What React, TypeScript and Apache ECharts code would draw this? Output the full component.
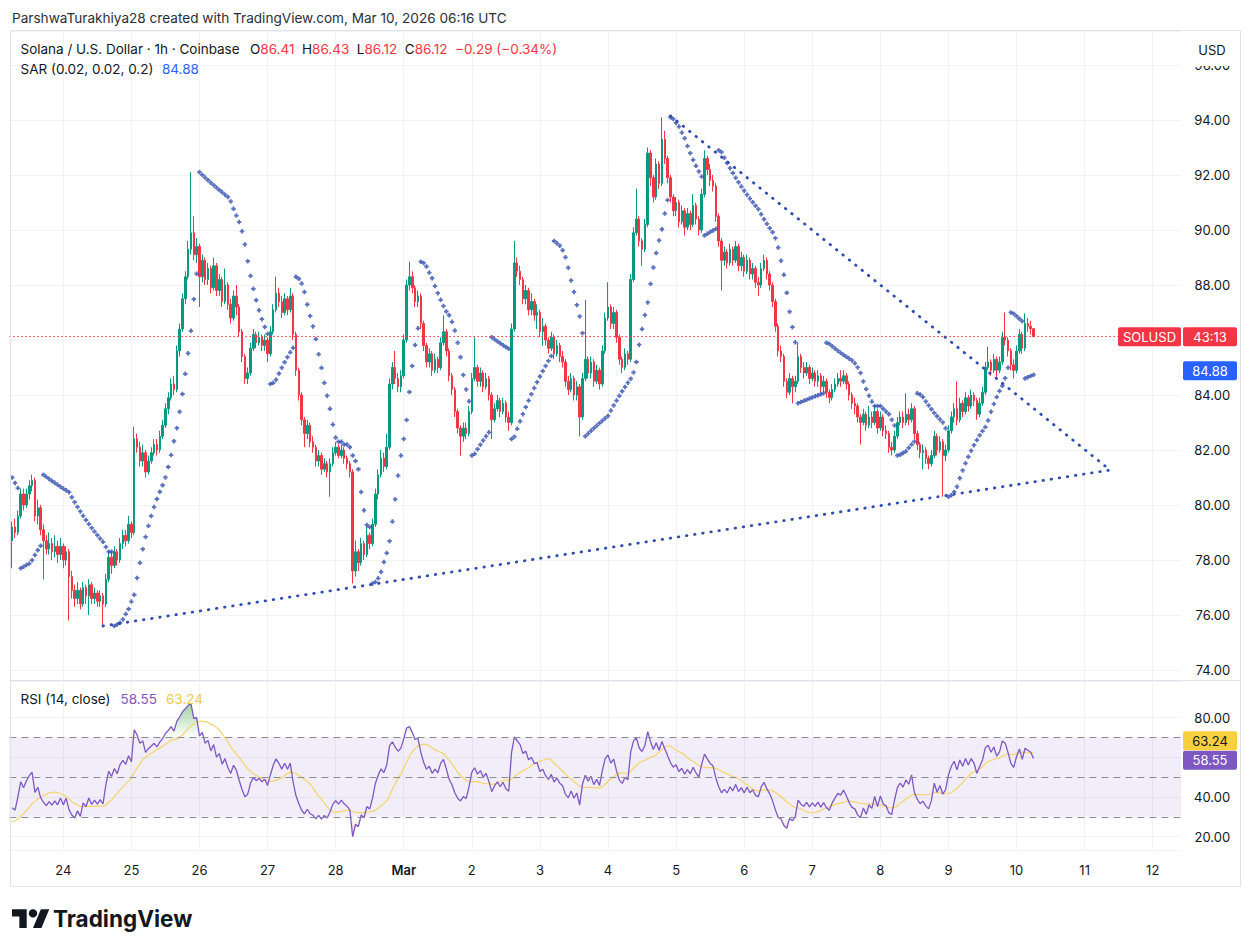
import React, { useEffect, useRef } from "react";
import * as echarts from "echarts";

// ---------- hourly candles (Feb 23 06:00 UTC -> Mar 10 06:00 UTC) ----------
const FIRST_OPEN = 78.7;
const closes = [
  79.2, 79.0, 79.6, 80.4, 80.0, 80.4, 80.7, 80.9, 79.6, 79.9,
  79.1, 78.7, 78.4, 78.6, 78.3, 78.5, 78.2, 78.5, 78.0, 78.3,
  77.4, 76.9, 76.6, 76.9, 76.4, 77.0, 76.7, 77.1, 76.6, 76.8,
  76.5, 76.7, 76.4, 77.3, 78.1, 77.8, 78.3, 78.0, 78.6, 78.9,
  78.7, 79.3, 79.0, 82.4, 82.1, 81.6, 81.9, 81.2, 81.6, 81.9,
  82.2, 82.0, 82.5, 82.9, 83.5, 83.9, 84.4, 84.2, 85.6, 86.4,
  87.5, 88.3, 89.3, 89.9, 89.1, 89.4, 88.3, 88.9, 88.2, 88.6,
  87.9, 88.7, 87.8, 88.2, 87.4, 88.0, 87.3, 86.8, 87.6, 87.2,
  86.3, 85.4, 84.6, 84.8, 85.7, 86.2, 85.9, 86.1, 85.8, 86.0,
  85.5, 86.3, 87.1, 87.7, 87.4, 87.0, 87.5, 87.1, 87.6, 86.2,
  84.9, 84.0, 83.1, 82.6, 82.9, 82.3, 82.1, 81.6, 81.8, 81.3,
  81.5, 81.2, 81.5, 81.9, 82.1, 81.8, 82.0, 81.7, 81.5, 81.2,
  77.6, 78.3, 77.9, 78.6, 78.2, 78.9, 78.6, 79.3, 80.4, 81.1,
  81.7, 81.4, 82.1, 84.4, 85.0, 84.6, 84.3, 84.7, 86.0, 88.0,
  88.3, 87.9, 87.4, 87.6, 86.6, 85.8, 85.2, 85.5, 84.9, 85.3,
  85.0, 85.9, 86.3, 85.6, 84.7, 84.2, 83.4, 82.8, 82.5, 82.8,
  82.6, 83.4, 84.6, 85.0, 84.5, 84.8, 84.3, 84.6, 84.0, 83.1,
  83.5, 83.8, 83.4, 83.7, 83.2, 83.0, 86.4, 88.8, 88.5, 88.2,
  87.5, 87.8, 87.1, 87.4, 86.9, 87.0, 86.3, 86.5, 86.0, 85.7,
  86.1, 85.5, 85.8, 85.4, 85.2, 84.5, 84.2, 84.6, 84.0, 84.3,
  83.2, 84.6, 85.3, 84.8, 85.2, 84.5, 84.9, 84.4, 85.6, 86.8,
  87.2, 86.6, 87.0, 86.1, 85.3, 85.0, 85.5, 85.3, 88.2, 89.9,
  90.4, 89.6, 89.3, 90.2, 92.8, 91.9, 91.2, 92.4, 91.7, 93.3,
  92.6, 91.9, 91.2, 90.7, 91.0, 90.3, 90.7, 90.1, 90.6, 90.2,
  90.9, 90.4, 90.0, 91.3, 92.6, 92.2, 91.8, 91.6, 90.5, 89.6,
  88.9, 89.2, 88.8, 89.3, 88.9, 89.4, 88.7, 89.0, 88.5, 88.9,
  88.4, 88.6, 88.1, 88.0, 88.6, 88.9, 88.4, 88.0, 87.4, 86.5,
  85.6, 85.4, 84.5, 84.1, 84.6, 84.3, 84.5, 85.4, 85.0, 84.8,
  85.0, 84.6, 84.8, 84.5, 84.7, 84.3, 84.5, 84.1, 83.9, 84.2,
  84.4, 84.6, 84.5, 84.7, 84.4, 84.0, 83.7, 83.6, 83.2, 83.0,
  83.3, 82.9, 83.2, 83.0, 83.4, 82.8, 83.2, 82.7, 82.6, 82.1,
  82.0, 82.5, 83.0, 83.2, 83.0, 83.3, 83.1, 83.5, 82.6, 82.2,
  81.9, 82.0, 81.7, 81.5, 81.8, 82.5, 82.0, 82.3, 81.8, 82.0,
  82.7, 83.2, 83.5, 83.1, 83.7, 83.4, 83.9, 83.6, 84.0, 83.8,
  83.3, 83.7, 84.1, 85.0, 85.2, 84.9, 85.3, 84.9, 85.2, 86.1,
  86.0, 85.6, 85.1, 84.9, 85.6, 86.2, 85.7, 86.6, 86.5, 86.41,
  86.12,
];
const highs = [
  79.4, 79.5, 79.8, 80.6, 80.6, 80.6, 80.9, 81.1, 81.0, 80.2,
  80.0, 79.3, 78.9, 79.0, 78.8, 78.9, 78.7, 78.8, 78.6, 78.5,
  78.4, 77.6, 77.1, 77.2, 77.0, 77.2, 77.1, 77.3, 77.2, 77.0,
  76.9, 76.9, 76.8, 77.5, 78.3, 78.3, 78.5, 78.4, 78.8, 79.1,
  79.1, 79.6, 79.4, 82.85, 82.6, 82.3, 82.2, 82.0, 81.8, 82.1,
  82.4, 82.4, 82.7, 83.1, 83.7, 84.1, 84.6, 84.7, 85.8, 86.6,
  87.7, 88.5, 89.6, 92.1, 90.5, 89.7, 89.5, 89.1, 89.0, 88.8,
  88.7, 89.0, 88.8, 88.4, 88.3, 88.6, 88.1, 87.5, 87.8, 88.0,
  87.3, 86.4, 85.5, 85.0, 85.9, 86.4, 86.3, 86.3, 86.2, 86.2,
  86.1, 86.5, 87.3, 88.3, 87.9, 87.6, 87.7, 87.6, 87.9, 87.7,
  86.3, 85.0, 84.1, 83.2, 83.1, 83.0, 82.5, 82.2, 82.0, 81.9,
  81.7, 81.6, 81.7, 82.1, 82.3, 82.2, 82.2, 82.1, 81.8, 81.6,
  81.3, 78.7, 78.4, 78.8, 78.7, 79.2, 79.0, 79.5, 80.6, 81.3,
  82.0, 81.9, 82.6, 84.6, 85.2, 85.6, 84.8, 84.9, 86.2, 88.2,
  88.85, 88.5, 88.0, 87.8, 87.7, 86.7, 85.9, 85.7, 85.6, 85.5,
  85.4, 86.1, 86.9, 86.4, 85.7, 84.8, 84.3, 83.5, 82.9, 83.0,
  83.0, 83.6, 84.8, 86.1, 85.1, 85.0, 84.9, 84.8, 84.7, 84.1,
  83.7, 84.0, 83.9, 83.9, 83.8, 83.4, 86.6, 89.6, 89.0, 88.7,
  88.3, 88.0, 87.9, 87.7, 87.5, 87.3, 87.1, 86.8, 86.6, 86.1,
  86.3, 86.2, 86.0, 85.9, 85.6, 85.3, 84.7, 84.8, 84.7, 84.5,
  84.4, 84.8, 87.45, 85.4, 85.4, 85.3, 85.1, 85.0, 85.8, 87.0,
  88.1, 87.3, 87.2, 87.1, 86.2, 85.4, 85.7, 85.6, 88.4, 90.1,
  91.5, 90.5, 89.7, 90.4, 93.0, 92.9, 92.0, 92.6, 92.5, 94.1,
  93.6, 92.7, 92.0, 91.3, 91.2, 91.1, 90.9, 90.8, 90.8, 90.7,
  91.3, 91.0, 90.5, 91.5, 92.9, 92.7, 92.4, 92.0, 91.7, 90.6,
  89.7, 89.4, 89.3, 89.5, 89.4, 89.6, 89.5, 89.2, 89.1, 89.1,
  89.0, 88.8, 88.7, 88.3, 88.8, 89.1, 89.0, 88.5, 88.1, 87.5,
  86.6, 85.8, 85.5, 84.6, 84.8, 84.7, 84.7, 85.9, 85.5, 85.2,
  85.2, 85.1, 85.0, 84.9, 84.9, 84.8, 84.7, 84.6, 84.2, 84.4,
  84.6, 84.8, 84.9, 84.9, 84.8, 84.5, 84.1, 83.9, 83.7, 83.3,
  83.5, 83.4, 83.6, 83.4, 83.6, 83.5, 83.4, 83.3, 82.9, 82.7,
  82.3, 82.7, 83.2, 83.4, 83.4, 84.06, 83.5, 83.7, 83.6, 82.7,
  82.3, 82.2, 82.1, 81.8, 82.0, 82.7, 82.6, 82.5, 82.4, 82.2,
  82.9, 83.4, 83.7, 84.5, 83.9, 83.8, 84.1, 84.0, 84.2, 84.1,
  83.9, 83.9, 84.3, 85.2, 85.75, 85.3, 85.5, 85.4, 85.4, 86.3,
  87.0, 86.1, 85.7, 85.3, 85.8, 86.4, 86.3, 86.97, 86.8, 86.7,
  86.43,
];
const lows = [
  77.7, 78.8, 78.9, 79.5, 79.8, 79.9, 80.2, 80.5, 79.4, 79.3,
  78.9, 77.3, 78.2, 78.2, 78.0, 78.1, 77.9, 78.0, 77.7, 77.8,
  75.8, 76.6, 76.3, 76.4, 76.2, 76.3, 76.4, 76.0, 76.4, 76.4,
  76.3, 76.3, 75.6, 76.3, 77.2, 77.5, 77.7, 77.8, 77.9, 78.4,
  78.5, 78.6, 78.8, 78.9, 81.9, 81.4, 81.4, 81.0, 81.1, 81.5,
  81.8, 81.8, 81.9, 82.4, 82.8, 83.3, 83.8, 84.0, 84.1, 85.4,
  86.3, 87.3, 88.2, 89.1, 88.9, 88.8, 87.2, 88.1, 88.0, 88.0,
  87.7, 87.8, 87.6, 87.6, 87.2, 87.3, 87.1, 86.6, 86.7, 86.9,
  86.1, 85.2, 84.4, 84.4, 84.7, 85.6, 85.7, 85.8, 85.6, 85.6,
  85.2, 85.4, 86.2, 87.0, 87.2, 86.8, 86.9, 86.9, 87.0, 86.0,
  84.7, 83.8, 82.9, 82.1, 82.4, 82.1, 81.9, 81.4, 81.4, 81.1,
  81.2, 81.0, 80.3, 81.4, 81.8, 81.7, 81.7, 81.5, 81.3, 81.0,
  77.15, 77.4, 77.6, 77.8, 78.0, 78.1, 78.4, 78.5, 79.2, 80.2,
  81.0, 81.2, 81.3, 82.0, 84.2, 84.4, 84.1, 84.1, 84.6, 85.9,
  87.8, 87.7, 87.2, 87.2, 86.4, 85.6, 85.0, 85.0, 84.7, 84.8,
  84.8, 84.9, 85.8, 85.4, 84.5, 84.0, 83.2, 82.6, 81.8, 82.3,
  82.4, 82.5, 83.3, 84.5, 84.3, 84.3, 84.1, 84.2, 83.8, 82.4,
  83.0, 83.4, 83.2, 83.3, 83.0, 82.7, 82.9, 86.3, 88.3, 88.0,
  87.3, 87.3, 86.9, 86.9, 86.7, 86.4, 86.1, 85.8, 85.8, 85.5,
  85.6, 85.3, 85.4, 85.2, 85.0, 84.3, 84.0, 84.1, 83.8, 83.8,
  82.5, 83.1, 84.5, 84.6, 84.6, 84.3, 84.4, 84.2, 84.3, 85.5,
  86.7, 86.4, 86.4, 85.9, 85.1, 84.8, 84.9, 85.1, 85.2, 88.1,
  89.8, 89.4, 88.7, 89.2, 90.1, 91.6, 91.0, 91.1, 91.5, 91.6,
  92.4, 91.7, 91.0, 90.5, 90.5, 90.1, 90.2, 89.8, 90.0, 90.0,
  90.1, 90.2, 89.8, 89.9, 91.2, 92.0, 91.6, 91.4, 90.3, 89.4,
  87.8, 88.7, 88.6, 88.7, 88.7, 88.8, 88.5, 88.5, 88.3, 88.4,
  88.2, 88.2, 87.9, 87.6, 87.9, 88.5, 88.2, 87.8, 87.2, 86.3,
  85.4, 85.2, 84.3, 83.9, 84.0, 83.7, 84.1, 84.4, 84.8, 84.6,
  84.7, 84.4, 84.5, 84.3, 84.3, 84.1, 84.1, 83.9, 83.7, 83.8,
  84.1, 84.3, 84.3, 84.4, 84.2, 83.8, 83.5, 83.3, 83.0, 82.2,
  82.9, 82.7, 82.8, 82.8, 82.9, 82.6, 82.7, 82.5, 82.4, 81.9,
  81.8, 81.9, 82.4, 82.9, 82.8, 82.9, 82.9, 83.0, 82.4, 82.0,
  81.7, 81.3, 81.5, 81.3, 81.4, 81.7, 81.8, 81.9, 80.3, 81.6,
  81.9, 82.6, 83.0, 82.9, 83.0, 83.2, 83.3, 83.4, 83.5, 83.6,
  83.1, 83.2, 83.6, 84.0, 84.9, 84.7, 84.8, 84.6, 84.8, 85.1,
  85.8, 85.4, 84.9, 84.6, 84.8, 85.5, 85.5, 85.6, 86.3, 86.2,
  86.12,
];

// trend lines drawn on the chart (time, price)
const lowerTrend: [string, number][] = [["2026-02-24 14:00", 75.6], ["2026-03-11 09:00", 81.27]];
const upperTrend: [string, number][] = [["2026-03-04 22:00", 94.15], ["2026-03-11 09:00", 81.27]];

// values shown in the legends / price scale
const LAST_PRICE = 86.12;
const SAR_LAST = 84.88;
const RSI_LAST = 58.55;

// price-scale labels that sit under the value tags in the reference
const HIDDEN_PRICE_LABELS = [86];
const HIDDEN_RSI_LABELS = [60];

// indicator seeds (state before the first visible bar)
const SAR_SEED = { sar: 81.0, ep: 77.7, af: 0.06, up: false };
const RSI_SEED = { gain: 0.12, loss: 0.3 };
const RSI_MA_SEED = 27;

// axis domain
const START_UTC = Date.UTC(2026, 1, 23, 5);
const CATEGORY_COUNT = 414;
const FIRST_BAR_INDEX = 1;

const FONT = 'Inter, "Noto Sans", sans-serif';
const UP = "#089981";
const DOWN = "#f23645";
const SAR_COLOR = "#2f4cae";
const GRID_COLOR = "#f0f2f6";

const PRICE_MAX = 94 + (120 - 31) / 27.5;
const PRICE_MIN = 94 - (680 - 120) / 27.5;
const RSI_TOP = 681;
const RSI_BOTTOM = 850;
const RSI_MAX = 80 + (717.7 - RSI_TOP) / 1.983;
const RSI_MIN = 80 - (RSI_BOTTOM - 717.7) / 1.983;
const rsiY = (v: number) => RSI_TOP + ((RSI_MAX - v) / (RSI_MAX - RSI_MIN)) * (RSI_BOTTOM - RSI_TOP);

const LOGO_D = "M14 22H7V11H0V4h14v18zM28 22h-8l7.5-18h8L28 22zM24 8a4 4 0 1 1-8 0a4 4 0 1 1 8 0z";
echarts.graphic.registerShape("tvlogo", echarts.graphic.extendPath(LOGO_D, {}) as any);

const pad = (n: number) => (n < 10 ? "0" + n : "" + n);

function buildCategories(): string[] {
  const out: string[] = [];
  for (let i = 0; i < CATEGORY_COUNT; i++) {
    const d = new Date(START_UTC + i * 3600000);
    out.push(
      `${d.getUTCFullYear()}-${pad(d.getUTCMonth() + 1)}-${pad(d.getUTCDate())} ${pad(d.getUTCHours())}:00`
    );
  }
  return out;
}

function computeSAR(h: number[], l: number[]): number[] {
  const out: number[] = [];
  let { sar, ep, af, up } = SAR_SEED;
  for (let k = 0; k < h.length; k++) {
    if (k > 0) {
      let next = sar + af * (ep - sar);
      const p1 = k - 1;
      const p2 = k > 1 ? k - 2 : k - 1;
      if (up) {
        next = Math.min(next, l[p1], l[p2]);
        if (l[k] < next) {
          up = false; next = ep; ep = l[k]; af = 0.02;
        } else if (h[k] > ep) {
          ep = h[k]; af = Math.min(af + 0.02, 0.2);
        }
      } else {
        next = Math.max(next, h[p1], h[p2]);
        if (h[k] > next) {
          up = true; next = ep; ep = h[k]; af = 0.02;
        } else if (l[k] < ep) {
          ep = l[k]; af = Math.min(af + 0.02, 0.2);
        }
      }
      sar = next;
    }
    out.push(sar);
  }
  return out;
}

function computeRSI(c: number[]): number[] {
  const out: number[] = [];
  let ag = RSI_SEED.gain, al = RSI_SEED.loss, prev = FIRST_OPEN;
  for (let k = 0; k < c.length; k++) {
    const ch = c[k] - prev;
    ag = (ag * 13 + Math.max(ch, 0)) / 14;
    al = (al * 13 + Math.max(-ch, 0)) / 14;
    out.push(al === 0 ? 100 : 100 - 100 / (1 + ag / al));
    prev = c[k];
  }
  return out;
}

function sma(v: number[], p: number): number[] {
  const out: number[] = [];
  for (let k = 0; k < v.length; k++) {
    let s = 0;
    for (let j = k - p + 1; j <= k; j++) s += j >= 0 ? v[j] : RSI_MA_SEED;
    out.push(s / p);
  }
  return out;
}

export default function App() {
  const ref = useRef<HTMLDivElement>(null);

  useEffect(() => {
    if (!ref.current) return;
    const chart = echarts.init(ref.current, undefined, { renderer: "svg" });

    const cats = buildCategories();
    const n = Math.min(closes.length, highs.length, lows.length);
    const place = (arr: any[]) =>
      cats.map((_, idx) => {
        const k = idx - FIRST_BAR_INDEX;
        return k >= 0 && k < arr.length ? arr[k] : "-";
      });

    const ohlc: any[] = [];
    for (let k = 0; k < n; k++) {
      const o = k === 0 ? FIRST_OPEN : closes[k - 1];
      ohlc.push([o, closes[k], lows[k], highs[k]]);
    }
    const sar = computeSAR(highs.slice(0, n), lows.slice(0, n));
    const rsi = computeRSI(closes.slice(0, n));
    const rsiMa = sma(rsi, 14);

    const candleData = place(ohlc);
    const sarData = place(sar.map((v) => +v.toFixed(3)));
    const rsiData = place(rsi.map((v) => +v.toFixed(2)));
    const rsiMaData = place(rsiMa.map((v) => +v.toFixed(2)));
    const obBase = place(rsi.map(() => 70));
    const obFill = place(rsi.map((v) => Math.max(0, v - 70)));
    const osBase = place(rsi.map((v) => Math.min(v, 30)));
    const osFill = place(rsi.map((v) => 30 - Math.min(v, 30)));

    const isMidnight = (i: number) => (i + 5) % 24 === 0;

    const xBase = {
      type: "category",
      data: cats,
      boundaryGap: false,
      axisLine: { show: false },
      axisTick: { show: false },
      splitLine: { show: true, interval: (i: number) => isMidnight(i), lineStyle: { color: GRID_COLOR, width: 1 } },
    };

    const gridLeft = 9.4;
    const gridRight = 1253 - 1181.1;

    const labelFmt = (step: number, hidden: number[]) => (v: number) => {
      const r = Math.round(v / step) * step;
      if (Math.abs(v - r) > 1e-6) return "";
      if (hidden.some((h) => Math.abs(h - r) < 1e-6)) return "";
      return r.toFixed(2);
    };

    const option: any = {
      animation: false,
      backgroundColor: "#ffffff",
      textStyle: { fontFamily: FONT },
      grid: [
        { left: gridLeft, right: gridRight, top: 31, height: 649 },
        { left: gridLeft, right: gridRight, top: RSI_TOP, height: RSI_BOTTOM - RSI_TOP },
      ],
      xAxis: [
        { ...xBase, gridIndex: 0, axisLabel: { show: false } },
        {
          ...xBase,
          gridIndex: 1,
          axisLabel: {
            show: true,
            interval: (i: number) => isMidnight(i),
            margin: 13,
            color: "#131722",
            fontSize: 13,
            fontFamily: FONT,
            formatter: (v: string) => {
              const day = parseInt(v.slice(8, 10), 10);
              return day === 1 ? "{b|Mar}" : String(day);
            },
            rich: { b: { fontWeight: 600, fontSize: 13, color: "#131722", fontFamily: FONT } },
          },
        },
      ],
      yAxis: [
        {
          type: "value",
          gridIndex: 0,
          position: "right",
          min: PRICE_MIN,
          max: PRICE_MAX,
          splitNumber: 12,
          minInterval: 2,
          maxInterval: 2,
          axisLine: { show: false },
          axisTick: { show: false },
          splitLine: { show: true, lineStyle: { color: GRID_COLOR } },
          axisLabel: {
            align: "right",
            margin: 49,
            color: "#131722",
            fontSize: 13,
            fontFamily: FONT,
            formatter: labelFmt(2, HIDDEN_PRICE_LABELS),
          },
        },
        {
          type: "value",
          gridIndex: 1,
          position: "right",
          min: RSI_MIN,
          max: RSI_MAX,
          splitNumber: 4,
          minInterval: 20,
          maxInterval: 20,
          axisLine: { show: false },
          axisTick: { show: false },
          splitLine: { show: true, lineStyle: { color: GRID_COLOR } },
          axisLabel: {
            align: "right",
            margin: 49,
            color: "#131722",
            fontSize: 13,
            fontFamily: FONT,
            formatter: labelFmt(20, HIDDEN_RSI_LABELS),
          },
        },
      ],
      series: [
        {
          type: "candlestick",
          name: "SOLUSD",
          xAxisIndex: 0,
          yAxisIndex: 0,
          data: candleData,
          barWidth: 2,
          itemStyle: { color: UP, color0: DOWN, borderColor: UP, borderColor0: DOWN, borderWidth: 1 },
          markLine: {
            silent: true,
            symbol: ["none", "none"],
            label: { show: false },
            lineStyle: { color: DOWN, type: [1.5, 2.5], width: 1 },
            data: [{ yAxis: LAST_PRICE }],
          },
        },
        {
          type: "scatter",
          name: "SAR",
          xAxisIndex: 0,
          yAxisIndex: 0,
          data: sarData,
          symbol: "path://M1.5 0h2v1.5H5v2H3.5V5h-2V3.5H0v-2h1.5z",
          symbolSize: 4.5,
          itemStyle: { color: SAR_COLOR },
          silent: true,
        },
        {
          type: "line",
          xAxisIndex: 0,
          yAxisIndex: 0,
          data: lowerTrend,
          showSymbol: false,
          silent: true,
          lineStyle: { color: SAR_COLOR, width: 2.8, type: [0.5, 7.7], cap: "round" },
        },
        {
          type: "line",
          xAxisIndex: 0,
          yAxisIndex: 0,
          data: upperTrend,
          showSymbol: false,
          silent: true,
          lineStyle: { color: SAR_COLOR, width: 2.8, type: [0.5, 7.7], cap: "round" },
        },
        {
          type: "line",
          xAxisIndex: 1,
          yAxisIndex: 1,
          data: obBase,
          stack: "ob",
          showSymbol: false,
          silent: true,
          lineStyle: { width: 0, opacity: 0 },
        },
        {
          type: "line",
          xAxisIndex: 1,
          yAxisIndex: 1,
          data: obFill,
          stack: "ob",
          showSymbol: false,
          silent: true,
          lineStyle: { width: 0, opacity: 0 },
          areaStyle: {
            color: {
              type: "linear",
              x: 0, y: rsiY(92), x2: 0, y2: rsiY(70),
              global: true,
              colorStops: [
                { offset: 0, color: "rgba(67,160,71,0.95)" },
                { offset: 1, color: "rgba(76,175,80,0)" },
              ],
            },
          },
        },
        {
          type: "line",
          xAxisIndex: 1,
          yAxisIndex: 1,
          data: osBase,
          stack: "os",
          showSymbol: false,
          silent: true,
          lineStyle: { width: 0, opacity: 0 },
        },
        {
          type: "line",
          xAxisIndex: 1,
          yAxisIndex: 1,
          data: osFill,
          stack: "os",
          showSymbol: false,
          silent: true,
          lineStyle: { width: 0, opacity: 0 },
          areaStyle: {
            color: {
              type: "linear",
              x: 0, y: rsiY(30), x2: 0, y2: rsiY(8),
              global: true,
              colorStops: [
                { offset: 0, color: "rgba(242,54,69,0)" },
                { offset: 1, color: "rgba(242,54,69,0.9)" },
              ],
            },
          },
        },
        {
          type: "line",
          name: "RSI-based MA",
          xAxisIndex: 1,
          yAxisIndex: 1,
          data: rsiMaData,
          showSymbol: false,
          silent: true,
          lineStyle: { color: "#f5d46a", width: 1.2 },
        },
        {
          type: "line",
          name: "RSI",
          xAxisIndex: 1,
          yAxisIndex: 1,
          data: rsiData,
          showSymbol: false,
          silent: true,
          lineStyle: { color: "#7e57c2", width: 1.3 },
          markArea: {
            silent: true,
            itemStyle: { color: "rgba(126,87,194,0.1)" },
            data: [[{ yAxis: 70 }, { yAxis: 30 }]],
          },
          markLine: {
            silent: true,
            symbol: ["none", "none"],
            label: { show: false },
            lineStyle: { color: "#8a8d96", type: [7, 5], width: 1 },
            data: [{ yAxis: 70 }, { yAxis: 50 }, { yAxis: 30 }],
          },
        },
      ],
    };

    chart.setOption(option);

    const yPrice = chart.convertToPixel({ yAxisIndex: 0 } as any, LAST_PRICE) as number;
    const ySar = chart.convertToPixel({ yAxisIndex: 0 } as any, SAR_LAST) as number;
    const yRsi = chart.convertToPixel({ yAxisIndex: 1 } as any, RSI_LAST) as number;

    const txt = (x: number, y: number, text: string, fill: string, size: number, weight = "normal", align = "left") => ({
      type: "text",
      z: 100,
      style: {
        x, y, text, fill,
        font: `${weight} ${size}px ${FONT}`,
        align, verticalAlign: "middle",
        textAlign: align, textVerticalAlign: "middle",
      },
    });
    const tag = (x: number, yc: number, w: number, fill: string, text: string, color: string) => ({
      type: "group",
      z: 100,
      children: [
        { type: "rect", z: 100, shape: { x, y: yc - 9.5, width: w, height: 19, r: 2 }, style: { fill } },
        txt(x + w / 2, yc, text, color, 13, "normal", "center"),
      ],
    });

    const graphic: any[] = [
      { type: "rect", z: 90, shape: { x: 10.5, y: 30.5, width: 1230, height: 856 }, style: { fill: "none", stroke: "#e0e3eb", lineWidth: 1 } },
      { type: "line", z: 90, shape: { x1: 10.5, y1: 680.5, x2: 1240.5, y2: 680.5 }, style: { stroke: "#e0e3eb", lineWidth: 1 } },
      { type: "rect", z: 95, shape: { x: 1183, y: 31, width: 57, height: 35 }, style: { fill: "#ffffff" } },
      txt(1212, 50, "USD", "#131722", 13, "normal", "center"),
      txt(12, 18, "ParshwaTurakhiya28 created with TradingView.com, Mar 10, 2026 06:16 UTC", "#2a2e39", 13.6),
      txt(20.5, 49, "Solana / U.S. Dollar · 1h · Coinbase", "#131722", 13.5),
      {
        type: "text", z: 100,
        style: {
          x: 250, y: 49, verticalAlign: "middle", textVerticalAlign: "middle",
          text: "{k|O}{v|86.41}  {k|H}{v|86.43}  {k|L}{v|86.12}  {k|C}{v|86.12}  {v|−0.29 (−0.34%)}",
          font: `13.5px ${FONT}`,
          rich: {
            k: { fill: "#131722", font: `13.5px ${FONT}` },
            v: { fill: "#f23645", font: `13.5px ${FONT}` },
          },
        },
      },
      txt(20.5, 69, "SAR (0.02, 0.02, 0.2)", "#131722", 13.5),
      txt(162, 69, "84.88", "#2962ff", 13.5),
      txt(20.5, 699, "RSI (14, close)", "#131722", 13.5),
      txt(120.5, 699, "58.55", "#7e57c2", 13.5),
      txt(166, 699, "63.24", "#f2c94c", 13.5),
      tag(1118, yPrice, 63, DOWN, "SOLUSD", "#ffffff"),
      tag(1183, yPrice, 54, DOWN, "43:13", "#ffffff"),
      tag(1183, ySar, 54, "#2962ff", "84.88", "#ffffff"),
      tag(1183, yRsi, 54, "#7e57c2", "58.55", "#ffffff"),
      tag(1183, yRsi - 19.5, 54, "#f7cf3f", "63.24", "#131722"),
      { type: "tvlogo", z: 100, x: 12, y: 905, scaleX: 1.05, scaleY: 1.05, style: { fill: "#131722" } },
      txt(53, 918, "TradingView", "#131722", 22.5, "bold"),
    ];

    chart.setOption({ graphic });

    return () => chart.dispose();
  }, []);

  return (
    <div
      ref={ref}
      style={{ position: "fixed", left: 0, top: 0, width: 1253, height: 952, background: "#ffffff" }}
    />
  );
}
